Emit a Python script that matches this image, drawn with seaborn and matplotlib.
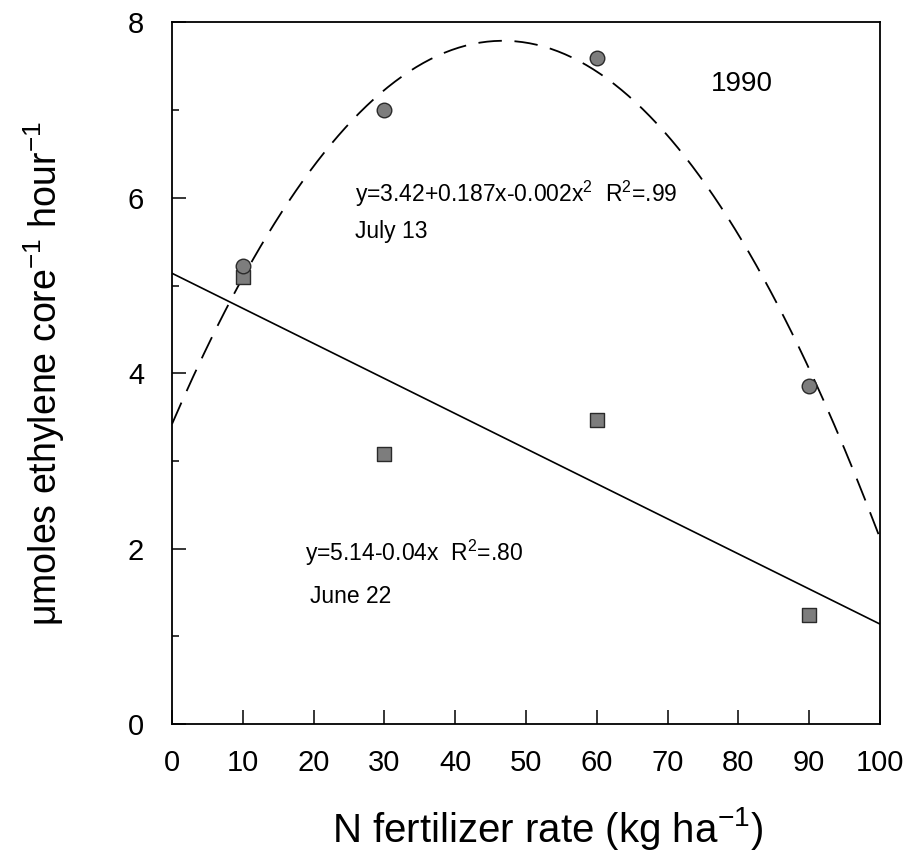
#!/usr/bin/env python3

import numpy as np
import pandas as pd
import matplotlib
matplotlib.use("Agg")
import matplotlib.pyplot as plt
import seaborn as sns

# data
n_rate = [10, 30, 60, 90]
july13 = [5.22, 7.0, 7.6, 3.85]
june22 = [5.1, 3.08, 3.47, 1.24]

# fitted equations printed on the chart
july13_coef = [3.42, 0.187, -0.002]   # y = a + b x + c x^2
june22_coef = [5.14, -0.04]           # y = a + b x

x_fit = np.linspace(0, 100, 201)
fit_df = pd.DataFrame({
    'x': x_fit,
    'july13': july13_coef[0] + july13_coef[1] * x_fit + july13_coef[2] * x_fit ** 2,
    'june22': june22_coef[0] + june22_coef[1] * x_fit,
})
pts_df = pd.DataFrame({'x': n_rate, 'july13': july13, 'june22': june22})

sns.set_style('ticks', {'axes.edgecolor': 'black', 'text.color': 'black',
                        'xtick.color': 'black', 'ytick.color': 'black',
                        'axes.labelcolor': 'black'})
plt.rcParams['font.family'] = ['Liberation Sans', 'DejaVu Sans']
plt.rcParams['mathtext.fontset'] = 'custom'
plt.rcParams['mathtext.rm'] = 'Liberation Sans'
plt.rcParams['mathtext.it'] = 'Liberation Sans:italic'
plt.rcParams['mathtext.default'] = 'regular'

fig = plt.figure(figsize=(9.1, 8.64), dpi=100)
ax = fig.add_axes([0.189, 0.162, 0.778, 0.812])

# fit lines
sns.lineplot(data=fit_df, x='x', y='july13', ax=ax, color='black', linewidth=1.3,
             linestyle=(0, (13, 7)))
sns.lineplot(data=fit_df, x='x', y='june22', ax=ax, color='black', linewidth=1.2)

# points
sns.scatterplot(data=pts_df, x='x', y='june22', ax=ax, marker='s', s=110,
                color='#7d7d7d', edgecolor='#2a2a2a', linewidth=1.0, zorder=3)
sns.scatterplot(data=pts_df, x='x', y='july13', ax=ax, marker='o', s=110,
                color='#7d7d7d', edgecolor='#2a2a2a', linewidth=1.0, zorder=3)

# annotations
ax.text(80.5, 7.3, '1990', fontsize=20, ha='center', va='center')
ax.text(25.8, 6.05, r'y=3.42+0.187x-0.002x$^2$  R$^2$=.99', fontsize=16.5, va='center')
ax.text(25.8, 5.62, 'July 13', fontsize=16.5, va='center')
ax.text(18.8, 1.95, r'y=5.14-0.04x  R$^2$=.80', fontsize=16.5, va='center')
ax.text(19.5, 1.45, 'June 22', fontsize=16.5, va='center')

# axes
ax.set_xlim(0, 100)
ax.set_ylim(0, 8)
ax.set_xticks(range(0, 101, 10))
ax.set_yticks(range(0, 9, 2))
ax.set_yticks(range(0, 9, 1), minor=True)
ax.tick_params(axis='both', which='major', direction='in', length=10, width=1.1,
               labelsize=21, pad=18)
ax.tick_params(axis='both', which='minor', direction='in', length=5, width=1.1)
ax.tick_params(axis='y', which='major', pad=20)
for s in ax.spines.values():
    s.set_linewidth(1.3)

ax.set_xlabel(r'N fertilizer rate (kg ha$^{-1}$)', fontsize=29, labelpad=26)
ax.xaxis.set_label_coords(0.53, -0.115)
ax.set_ylabel(r'$\mu$moles ethylene core$^{-1}$ hour$^{-1}$', fontsize=27, labelpad=44)

plt.savefig('out.png', dpi=100)
